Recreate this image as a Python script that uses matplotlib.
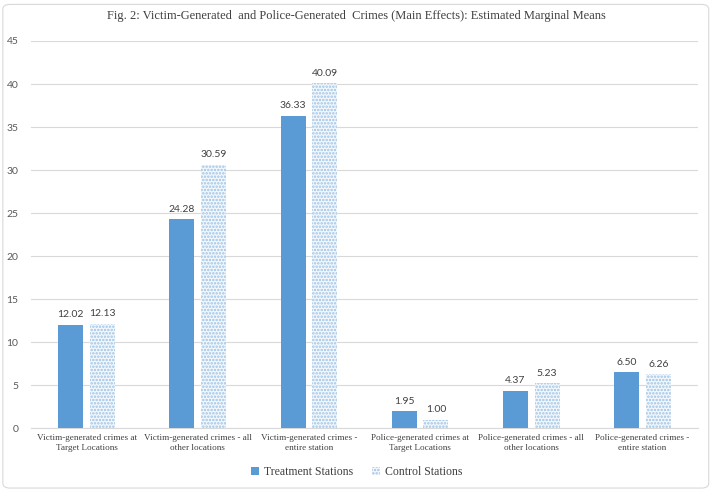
import numpy as np
import matplotlib.pyplot as plt
from matplotlib.patches import FancyBboxPatch

plt.rcParams['font.family'] = ['Liberation Serif', 'DejaVu Serif']

categories = ['Victim-generated crimes at\nTarget Locations',
              'Victim-generated crimes - all\nother locations',
              'Victim-generated crimes -\nentire station',
              'Police-generated crimes at\nTarget Locations',
              'Police-generated crimes - all\nother locations',
              'Police-generated crimes -\nentire station']
treatment = [12.02, 24.28, 36.33, 1.95, 4.37, 6.50]
control = [12.13, 30.59, 40.09, 1.00, 5.23, 6.26]

fig = plt.figure(figsize=(7.13, 4.91), dpi=100)
# light rounded border round the whole chart
fig.patches.append(FancyBboxPatch((0.004, 0.006), 0.99, 0.985, boxstyle='round,pad=0,rounding_size=0.01',
                                  transform=fig.transFigure, facecolor='none', edgecolor='#d9d9d9',
                                  lw=0.8, zorder=-1))
ax = fig.add_axes([0.0435, 0.128, 0.9355, 0.7885])

x = np.arange(len(categories))
w = 0.225
gap = 0.03
b1 = ax.bar(x - w / 2 - gap, treatment, w, color='#5b9bd5', zorder=3)
plt.rcParams['hatch.linewidth'] = 1.2
b2 = ax.bar(x + w / 2 + gap, control, w, facecolor='#f4f8fc', edgecolor='#9dc3e6',
            hatch='.....', linewidth=0, zorder=3)

# numbers are in a sans face, words in a serif one
num_font = ['Lato', 'DejaVu Sans']
for bars in (b1, b2):
    for r in bars:
        ax.annotate('%.2f' % r.get_height(), (r.get_x() + r.get_width() / 2, r.get_height()),
                    xytext=(0, 4), textcoords='offset points', family=num_font,
                    ha='center', va='bottom', fontsize=7.5, color='#404040')

ax.set_ylim(0, 45)
ax.set_yticks(range(0, 46, 5))
ax.set_xlim(-0.5, 5.5)
ax.set_xticks(x)
ax.set_xticklabels(categories, fontsize=6.6, color='#404040')
for t in ax.get_yticklabels():
    t.set_family(num_font)
ax.tick_params(axis='y', labelsize=7.5, labelcolor='#595959', length=0, pad=9)
ax.tick_params(axis='x', length=0, pad=4.5)
ax.grid(axis='y', color='#d9d9d9', lw=0.8, zorder=0)
for s in ['top', 'right', 'left']:
    ax.spines[s].set_visible(False)
ax.spines['bottom'].set_color('#d9d9d9')

fig.text(0.5, 0.967, 'Fig. 2: Victim-Generated  and Police-Generated  Crimes (Main Effects): Estimated Marginal Means',
         ha='center', va='center', fontsize=9, color='#404040')
fig.legend([b1, b2], ['Treatment Stations', 'Control Stations'], loc='center', bbox_to_anchor=(0.5, 0.039),
           ncol=2, frameon=False, fontsize=8.5, handlelength=0.7, handleheight=0.7, columnspacing=1.6,
           handletextpad=0.4, labelcolor='#404040')

fig.savefig('out.png', dpi=100)
